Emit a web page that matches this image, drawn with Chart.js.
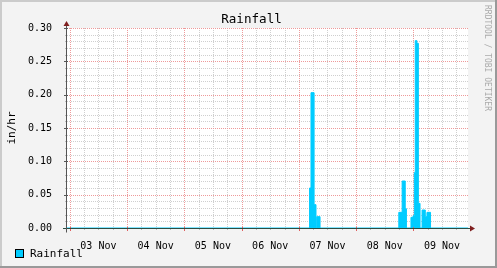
<!DOCTYPE html>
<html>
<head>
<meta charset="utf-8">
<script src="https://cdn.jsdelivr.net/npm/chart.js@4"></script>
<style>
html,body{margin:0;padding:0;background:#f3f3f3;}
#wrap{width:497px;height:268px;position:relative;}
</style>
</head>
<body>
<div id="wrap"><canvas id="c" width="497" height="268"></canvas></div>
<script>
// hours since 03 Nov 00:00, start of each step
const hours = [-1.15, 100.5, 101.1, 102.4, 103.2, 103.5, 104.9,
               137.9, 139.3, 140.6, 141.1, 143.0, 143.9, 144.4, 144.8, 145.5, 146.1, 146.8,
               147.65, 149.0, 149.7, 151.2, 166.9];
// rainfall in/hr
const rain  = [0, 0.060, 0.203, 0.035, 0, 0.017, 0,
               0.0235, 0.0705, 0.029, 0, 0.016, 0.0185, 0.083, 0.281, 0.277, 0.037, 0,
               0.027, 0.017, 0.0235, 0, 0];
const dayLabels = ['03 Nov', '04 Nov', '05 Nov', '06 Nov', '07 Nov', '08 Nov', '09 Nov'];
const yMax = 0.30;
const xMin = -1.15, xMax = 166.9;

const FONT = '"DejaVu Sans Mono", monospace';
const CYAN = '#00ccff';
const MGRID = '#ee9a9a';
const GRID = '#cfcfcf';

const frame = {
  id: 'frame',
  beforeDraw(chart) {
    const ctx = chart.ctx, a = chart.chartArea;
    ctx.save();
    ctx.fillStyle = '#f3f3f3';
    ctx.fillRect(0, 0, 497, 268);
    ctx.fillStyle = '#cbcbcb';
    ctx.fillRect(0, 0, 497, 2);
    ctx.fillRect(0, 0, 2, 268);
    ctx.fillStyle = '#999999';
    ctx.fillRect(0, 266, 497, 2);
    ctx.fillRect(495, 0, 2, 268);
    ctx.fillStyle = '#ffffff';
    ctx.fillRect(a.left, a.top, a.right - a.left, a.bottom - a.top);
    ctx.restore();
  },
  beforeDatasetsDraw(chart) {
    const ctx = chart.ctx, a = chart.chartArea;
    const xs = chart.scales.x, ys = chart.scales.y;
    const L = Math.round(a.left), R = Math.round(a.right), T = Math.round(a.top), B = Math.round(a.bottom);
    ctx.save();
    // horizontal grid (minor first, then major)
    for (const major of [false, true]) {
      ctx.fillStyle = major ? MGRID : GRID;
      for (let i = 1; i <= 30; i++) {
        if ((i % 5 === 0) !== major) continue;
        const y = Math.round(ys.getPixelForValue(i / 100));
        for (let x = L; x < R; x += 2) ctx.fillRect(x, y, 1, 1);
      }
      for (let t = 0; t <= 162; t += 6) {
        if ((t % 24 === 0) !== major) continue;
        const x = Math.round(xs.getPixelForValue(t));
        for (let y = T; y < B; y += 2) ctx.fillRect(x, y, 1, 1);
      }
    }
    ctx.restore();
  },
  afterDraw(chart) {
    const ctx = chart.ctx, a = chart.chartArea;
    const xs = chart.scales.x, ys = chart.scales.y;
    ctx.save();
    ctx.lineWidth = 1;
    for (let i = 0; i <= 30; i++) {
      const y = Math.round(ys.getPixelForValue(i / 100)) + 0.5;
      ctx.beginPath();
      if (i % 5 === 0) { ctx.strokeStyle = '#555'; ctx.moveTo(a.left - 3, y); ctx.lineTo(a.left + 1, y); }
      else { ctx.strokeStyle = '#bbb'; ctx.moveTo(a.left - 2, y); ctx.lineTo(a.left, y); }
      ctx.stroke();
    }
    for (let t = 0; t <= 162; t += 6) {
      const x = Math.round(xs.getPixelForValue(t)) + 0.5;
      ctx.beginPath();
      if (t % 24 === 0) { ctx.strokeStyle = '#e06060'; ctx.moveTo(x, a.bottom - 1); ctx.lineTo(x, a.bottom + 3); }
      else { ctx.strokeStyle = '#bbb'; ctx.moveTo(x, a.bottom); ctx.lineTo(x, a.bottom + 2); }
      ctx.stroke();
    }
    const ax = a.left - 0.5, ay = Math.round(ys.getPixelForValue(0)) + 0.5;
    ctx.strokeStyle = '#2c4d43';
    ctx.beginPath(); ctx.moveTo(a.left - 4, ay); ctx.lineTo(a.right + 2, ay); ctx.stroke();
    ctx.strokeStyle = '#555';
    ctx.beginPath(); ctx.moveTo(ax, ay + 4); ctx.lineTo(ax, a.top - 2); ctx.stroke();
    ctx.fillStyle = '#7f1f1f';
    ctx.beginPath(); ctx.moveTo(ax, a.top - 7); ctx.lineTo(ax - 3, a.top - 2); ctx.lineTo(ax + 3, a.top - 2); ctx.closePath(); ctx.fill();
    ctx.beginPath(); ctx.moveTo(a.right + 7, ay); ctx.lineTo(a.right + 2, ay - 3); ctx.lineTo(a.right + 2, ay + 3); ctx.closePath(); ctx.fill();
    ctx.fillStyle = '#000';
    ctx.font = '12.6px ' + FONT;
    ctx.textAlign = 'center';
    ctx.textBaseline = 'alphabetic';
    ctx.fillText('Rainfall', 251.5, 23.3);
    ctx.save();
    ctx.translate(15, (a.top + a.bottom) / 2);
    ctx.rotate(-Math.PI / 2);
    ctx.font = '11px ' + FONT;
    ctx.textAlign = 'center';
    ctx.fillText('in/hr', 0, 0);
    ctx.restore();
    ctx.save();
    ctx.translate(485, 5);
    ctx.rotate(Math.PI / 2);
    ctx.font = '8px ' + FONT;
    ctx.fillStyle = '#aaaaaa';
    ctx.textAlign = 'left';
    ctx.fillText('RRDTOOL / TOBI OETIKER', 0, 0);
    ctx.restore();
    ctx.fillStyle = CYAN;
    ctx.fillRect(15.5, 249.5, 8, 8);
    ctx.strokeStyle = '#000';
    ctx.strokeRect(15.5, 249.5, 8, 8);
    ctx.fillStyle = '#000';
    ctx.font = '11px ' + FONT;
    ctx.textAlign = 'left';
    ctx.textBaseline = 'middle';
    ctx.fillText('Rainfall', 30, 254);
    ctx.restore();
  }
};

new Chart(document.getElementById('c'), {
  type: 'line',
  data: {
    datasets: [{
      label: 'Rainfall',
      data: hours.map((h, i) => ({ x: h, y: rain[i] })),
      stepped: true,
      fill: 'origin',
      backgroundColor: CYAN,
      borderColor: CYAN,
      borderWidth: 1,
      pointRadius: 0,
      tension: 0
    }]
  },
  options: {
    responsive: false,
    animation: false,
    events: [],
    layout: { padding: { left: 0, right: 29, top: 28, bottom: 0 } },
    plugins: { legend: { display: false }, title: { display: false }, tooltip: { enabled: false } },
    scales: {
      x: {
        type: 'linear',
        min: xMin, max: xMax,
        afterBuildTicks(s) {
          const t = [];
          for (let v = 0; v <= 162; v += 6) t.push({ value: v });
          s.ticks = t;
        },
        afterFit(s) { s.height = 40; },
        ticks: {
          autoSkip: false, maxRotation: 0, padding: 4,
          color: '#000',
          font: { family: FONT, size: 10 },
          callback(v) { return (v % 24 === 12) ? dayLabels[(v - 12) / 24] : ''; }
        },
        grid: { display: false },
        border: { display: false }
      },
      y: {
        type: 'linear',
        min: 0, max: yMax,
        afterBuildTicks(s) {
          const t = [];
          for (let i = 0; i <= 30; i++) t.push({ value: i / 100 });
          s.ticks = t;
        },
        afterFit(s) { s.width = 67; },
        ticks: {
          autoSkip: false, padding: 7,
          color: '#000',
          font: { family: FONT, size: 10 },
          callback(v) { const i = Math.round(v * 100); return (i % 5 === 0) ? v.toFixed(2) : ''; }
        },
        grid: { display: false },
        border: { display: false }
      }
    }
  },
  plugins: [frame]
});
</script>
</body>
</html>
